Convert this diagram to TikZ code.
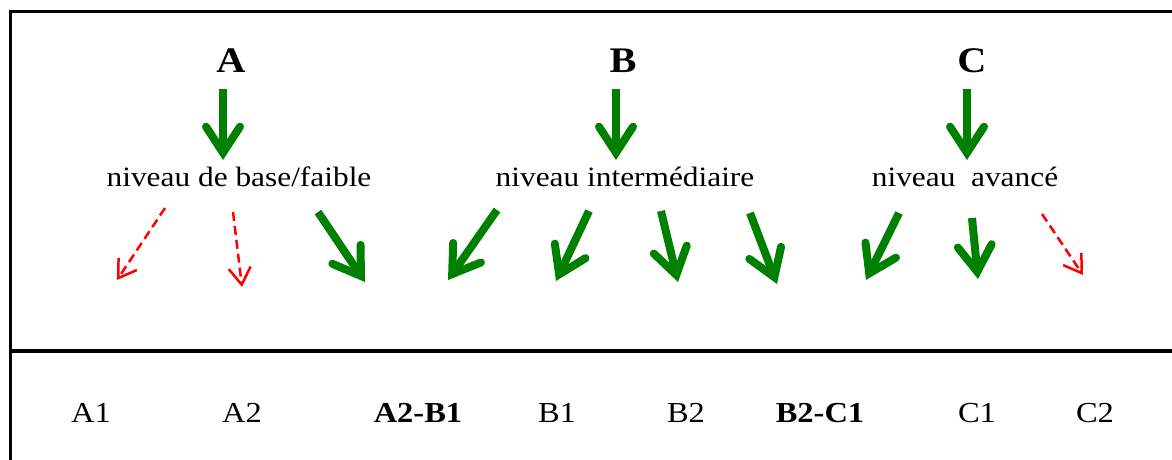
\documentclass[tikz,border=0pt]{standalone}
\usepackage{fontspec}
\setmainfont{Liberation Serif}[FakeStretch=1.12]
\usetikzlibrary{arrows.meta}
\definecolor{levelgreen}{RGB}{0,128,0}

\begin{document}
\begin{tikzpicture}[x=1pt,y=-1pt,
                    letter/.style={anchor=base, font=\fontsize{36}{40}\selectfont\bfseries},
                    level/.style={anchor=base, font=\fontsize{28}{32}\selectfont},
                    cefr/.style={anchor=base, font=\fontsize{29}{32}\selectfont},
                    strongarrow/.style={levelgreen, line width=8pt,
                        -{Straight Barb[length=26pt, width=34pt, line cap=round, line join=miter]}},
                    weakarrow/.style={red, line width=2.5pt, dash pattern=on 9pt off 5pt,
                        -{Straight Barb[length=17pt, width=22pt]}}]
    \useasboundingbox (0,0) rectangle (1172,460);
    % frame
    \draw[line width=3pt] (10.5,460) -- (10.5,12) -- (1172,12);
    \draw[line width=4pt] (10.5,351) -- (1172,351);

    \node (A)    [letter] at (231,73)  {A};
    \node (B)    [letter] at (623,73)  {B};
    \node (C)    [letter] at (972,73)  {C};
    \node (lvlA) [level]  at (239,186) {niveau de base/faible};
    \node (lvlB) [level]  at (625,186) {niveau intermédiaire};
    \node (lvlC) [level]  at (965,186) {niveau\ \ avancé};

    \node (a1)   [cefr] at (91,422)   {A1};
    \node (a2)   [cefr] at (242,422)  {A2};
    \node (a2b1) [cefr] at (418,422)  {\textbf{A2-B1}};
    \node (b1)   [cefr] at (557,422)  {B1};
    \node (b2)   [cefr] at (686,422)  {B2};
    \node (b2c1) [cefr] at (820,422)  {\textbf{B2-C1}};
    \node (c1)   [cefr] at (977,422)  {C1};
    \node (c2)   [cefr] at (1095,422) {C2};

    % arrow ends
    \foreach \n/\x/\y in {aS/223/89, aE/223/160, bS/616/89, bE/616/160, cS/967/89, cE/967/160,
                          a1S/165/208, a1E/117/280, a2S/233/212, a2E/242/287,
                          ab1S/318/212, ab1E/365/282, ab2S/497/210, ab2E/448/280,
                          b1S/589/211, b1E/556/281, b2S/661/211, b2E/678/282,
                          bc1S/750/213, bc1E/777/284, bc2S/899/213, bc2E/866/280,
                          c1S/972/218, c1E/978/279, c2S/1042/214, c2E/1083/275}
        \coordinate (\n) at (\x,\y);

    \path[strongarrow] (aS)   edge (aE)
                       (bS)   edge (bE)
                       (cS)   edge (cE);
    \path[strongarrow] (ab1S) edge (ab1E)
                       (ab2S) edge (ab2E)
                       (b1S)  edge (b1E)
                       (b2S)  edge (b2E)
                       (bc1S) edge (bc1E)
                       (bc2S) edge (bc2E)
                       (c1S)  edge (c1E);
    \path[weakarrow]   (a1S)  edge (a1E)
                       (a2S)  edge (a2E)
                       (c2S)  edge (c2E);
\end{tikzpicture}
\end{document}
